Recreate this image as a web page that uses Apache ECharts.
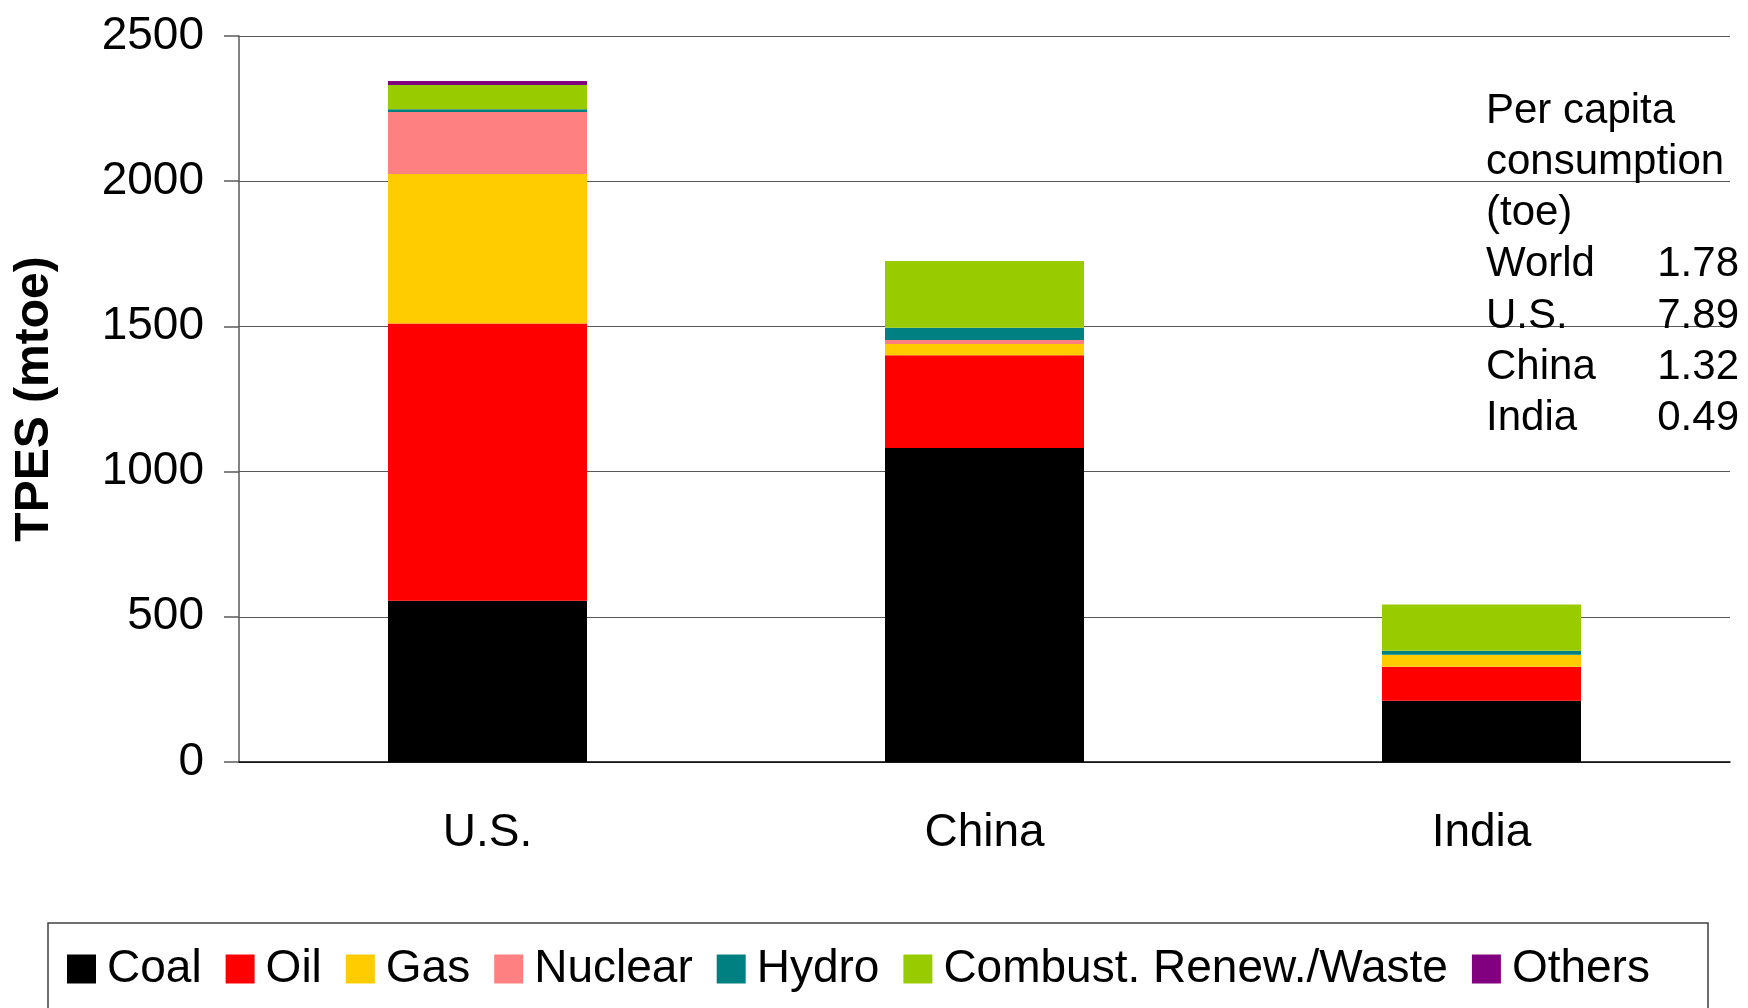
<!DOCTYPE html>
<html>
<head>
<meta charset="utf-8">
<title>TPES by fuel: U.S., China, India</title>
<script src="https://cdn.jsdelivr.net/npm/echarts@6/dist/echarts.min.js"></script>
<style>
  html, body { margin: 0; padding: 0; background: #ffffff; }
  #chart { width: 1748px; height: 1008px; }
</style>
</head>
<body>
<div id="chart"></div>
<script>
// Total primary energy supply by fuel (mtoe)
const categories = ['U.S.', 'China', 'India'];
const coal     = [555, 1081, 211];
const oil      = [955, 320, 117];
const gas      = [515, 38, 41];
const nuclear  = [213, 14, 0];
const hydro    = [10, 42, 14];
const combust  = [83, 230, 159];
const others   = [14, 0, 0];

const yTicks = [0, 500, 1000, 1500, 2000, 2500];

// Per capita consumption (toe)
const perCapitaNames  = ['World', 'U.S.', 'China', 'India'];
const perCapitaValues = ['1.78', '7.89', '1.32', '0.49'];

const seriesDefs = [
  { name: 'Coal', data: coal, color: '#000000' },
  { name: 'Oil', data: oil, color: '#FF0000' },
  { name: 'Gas', data: gas, color: '#FFCC00' },
  { name: 'Nuclear', data: nuclear, color: '#FF8080' },
  { name: 'Hydro', data: hydro, color: '#008080' },
  { name: 'Combust. Renew./Waste', data: combust, color: '#99CC00' },
  { name: 'Others', data: others, color: '#800080' }
];

const baseFont = "'Liberation Sans', Arial, sans-serif";

const chart = echarts.init(document.getElementById('chart'), null, { renderer: 'canvas' });

// Per capita block as text lines
const headerLines = ['Per capita', 'consumption', '(toe)'];
const lineY0 = 114, lineStep = 51.3, textLeft = 1486, valueRight = 1739;
const annotation = [];
headerLines.forEach((t, i) => {
  annotation.push({
    type: 'text', left: textLeft, top: lineY0 + i * lineStep - 24, z: 10,
    style: { text: t, font: '42px ' + baseFont, fill: '#000' }
  });
});
perCapitaNames.forEach((n, i) => {
  const y = lineY0 + (i + 3) * lineStep - 24;
  annotation.push({
    type: 'text', left: textLeft, top: y, z: 10,
    style: { text: n, font: '42px ' + baseFont, fill: '#000' }
  });
  annotation.push({
    type: 'text', right: 1748 - valueRight, top: y, z: 10,
    style: { text: perCapitaValues[i], font: '42px ' + baseFont, fill: '#000', textAlign: 'right' }
  });
});

// Legend frame
annotation.push({
  type: 'rect', z: 0,
  shape: { x: 48, y: 923, width: 1660, height: 200 },
  style: { fill: 'none', stroke: '#404040', lineWidth: 1.5 }
});

chart.setOption({
  animation: false,
  backgroundColor: '#ffffff',
  grid: { left: 239, right: 18, top: 36, bottom: 246, containLabel: false },
  legend: {
    left: 67, top: 946, padding: 0,
    itemWidth: 29, itemHeight: 29, itemGap: 24,
    icon: 'rect',
    selectedMode: false,
    textStyle: { fontFamily: baseFont, fontSize: 46, color: '#000', padding: [0, 0, 0, 6] },
    data: seriesDefs.map(s => s.name)
  },
  xAxis: {
    type: 'category',
    data: categories,
    axisLine: { show: true, lineStyle: { color: '#000', width: 1.5 } },
    axisTick: { show: false },
    axisLabel: { fontFamily: baseFont, fontSize: 46, color: '#000', margin: 48 },
    splitLine: { show: false }
  },
  yAxis: {
    type: 'value',
    min: yTicks[0], max: yTicks[yTicks.length - 1], interval: 500,
    name: 'TPES (mtoe)',
    nameLocation: 'middle',
    nameGap: 180,
    nameRotate: 90,
    nameTextStyle: { fontFamily: baseFont, fontSize: 48, fontWeight: 'bold', color: '#000' },
    axisLine: { show: true, lineStyle: { color: '#595959', width: 1.5 } },
    axisTick: { show: true, inside: false, length: 15, lineStyle: { color: '#595959', width: 1.5 } },
    axisLabel: { fontFamily: baseFont, fontSize: 46, color: '#000', margin: 35, formatter: v => String(v) },
    splitLine: { show: true, lineStyle: { color: '#595959', width: 1.2 } }
  },
  series: seriesDefs.map(s => ({
    name: s.name,
    type: 'bar',
    stack: 'tpes',
    data: s.data,
    barWidth: 199,
    itemStyle: { color: s.color },
    emphasis: { disabled: true }
  })),
  graphic: annotation
});
</script>
</body>
</html>
